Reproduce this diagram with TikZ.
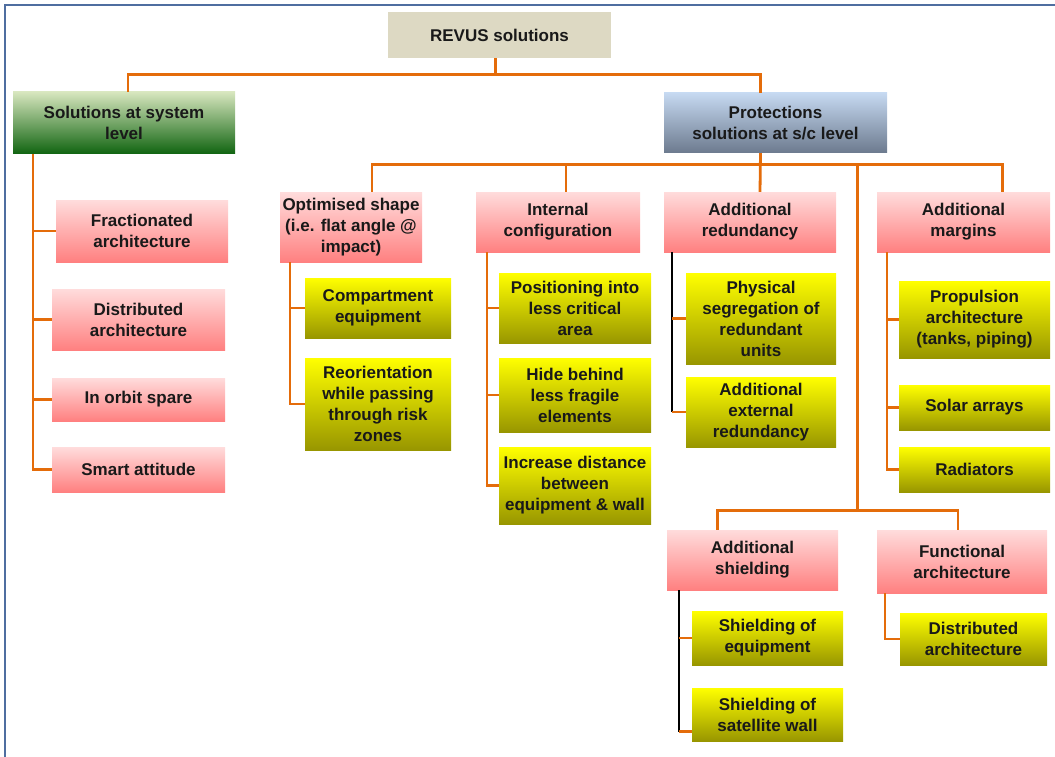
\documentclass[tikz,border=0pt]{standalone}
\usepackage{fontspec}
\setmainfont{Liberation Sans}
\definecolor{revtan}{RGB}{221, 217, 195}
\definecolor{greentop}{RGB}{215, 230, 190}
\definecolor{greenbot}{RGB}{16, 100, 16}
\definecolor{bluetop}{RGB}{198, 217, 241}
\definecolor{bluebot}{RGB}{108, 122, 142}
\definecolor{pinktop}{RGB}{255, 220, 220}
\definecolor{pinkbot}{RGB}{255, 128, 128}
\definecolor{yeltop}{RGB}{255, 255, 0}
\definecolor{yelbot}{RGB}{152, 150, 0}
\definecolor{linkor}{RGB}{228, 108, 10}
\definecolor{framebl}{RGB}{79, 110, 160}
\usepackage{tikz}
\usetikzlibrary{positioning, calc}

\begin{document}
\begin{tikzpicture}[x=1pt, y=1pt,
  box/.style={inner sep=1pt, align=center, text=black!90, font=\fontsize{17}{21}\selectfont\bfseries},
  sz/.style 2 args={minimum width=#1pt, minimum height=#2pt},
  pinkbox/.style={box, top color=pinktop, bottom color=pinkbot},
  yelbox/.style={box, top color=yeltop, bottom color=yelbot},
  link/.style={draw=linkor, line width=2.8pt},
  blkline/.style={draw=black, line width=1.8pt}]
  \useasboundingbox (0,0) rectangle (1055,-757);
  % frame, left and top edges
  \draw[framebl, line width=2.5pt] (5,-757) -- (5,-5) -- (1055,-5);

  % top level
  \node[box, fill=revtan, sz={223}{46}] (revus) at (499.5,-35) {REVUS solutions};
  \node[box, top color=greentop, bottom color=greenbot, sz={222}{62}] (sys) at (124,-123) {Solutions at system\\level};
  \node[box, top color=bluetop, bottom color=bluebot, sz={223}{60}] (prot) at (775.5,-123) {Protections\\solutions at s/c level};
  \draw[link] ([xshift=-4pt]revus.south) -- ++(0,-16) coordinate (rb) -| ([xshift=4pt]sys.north);
  \draw[link] (rb) -| ([xshift=-15pt]prot.north);

  % system level branch
  \node[pinkbox, sz={172}{62}] (frac) at (142,-231) {Fractionated\\architecture};
  \node[pinkbox, sz={173}{61}] (dist) at (138.5,-319.5) {Distributed\\architecture};
  \node[pinkbox, sz={173}{43}] (spare) at (138.5,-399.5) {In orbit spare};
  \node[pinkbox, sz={173}{45}] (smart) at (138.5,-469.5) {Smart attitude};
  \foreach \c in {frac, dist, spare, smart}
    \draw[link] ([xshift=-91pt]sys.south) |- (\c.west);

  % s/c level second row
  \node[pinkbox, sz={142}{70}] (optim) at (351,-227) {Optimised shape\\(i.e. flat angle @\\impact)};
  \node[pinkbox, sz={164}{60}] (intern) at (558,-222) {Internal\\configuration};
  \node[pinkbox, sz={172}{60}] (redun) at (750,-222) {Additional\\redundancy};
  \node[pinkbox, sz={173}{60}] (margins) at (963.5,-222) {Additional\\margins};
  \coordinate (pv) at ([xshift=-15pt]prot.south);
  \coordinate (pb) at ([yshift=-11pt]pv);
  \draw[link] (pv) -- ([xshift=10pt]redun.north);
  \draw[link] ([xshift=21pt]optim.north) |- (pb) -| ([xshift=39pt]margins.north);
  \draw[link] ([xshift=8pt]intern.north) -- ++(0,28);

  % optimised shape
  \node[yelbox, sz={146}{60}] (comp) at (378,-308) {Compartment\\equipment};
  \node[yelbox, sz={146}{92}] (reor) at (378,-404) {Reorientation\\while passing\\through risk\\zones};
  \foreach \c in {comp, reor}
    \draw[link] ([xshift=-61pt]optim.south) |- (\c.west);

  % internal configuration
  \node[yelbox, sz={152}{70}] (posit) at (575,-308) {Positioning into\\less critical\\area};
  \node[yelbox, sz={152}{74}] (hide) at (575,-395) {Hide behind\\less fragile\\elements};
  \node[yelbox, sz={152}{77}] (incr) at (575,-485.5) {Increase distance\\between\\equipment \& wall};
  \foreach \c in {posit, hide, incr}
    \draw[link] ([xshift=-71pt]intern.south) |- (\c.west);

  % additional redundancy
  \node[yelbox, sz={150}{91}] (phys) at (761,-318.5) {Physical\\segregation of\\redundant\\units};
  \node[yelbox, sz={150}{70}] (extred) at (761,-412) {Additional\\external\\redundancy};
  \coordinate (rv) at ([xshift=-78pt]redun.south);
  \draw[blkline] (rv) -- (rv |- extred.west);
  \foreach \c in {phys, extred}
    \draw[link] (rv |- \c.west) -- (\c.west);

  % additional margins
  \node[yelbox, sz={151}{77}] (prop) at (974.5,-319.5) {Propulsion\\architecture\\(tanks, piping)};
  \node[yelbox, sz={151}{45}] (solar) at (974.5,-407.5) {Solar arrays};
  \node[yelbox, sz={151}{45}] (rad) at (974.5,-469.5) {Radiators};
  \foreach \c in {prop, solar, rad}
    \draw[link] ([xshift=-76.5pt]margins.south) |- (\c.west);

  % lower row
  \node[pinkbox, sz={171}{60}] (shield) at (752.5,-560) {Additional\\shielding};
  \node[pinkbox, sz={170}{63}] (func) at (962,-561.5) {Functional\\architecture};
  \coordinate (sb) at ($(shield.north)!.5!(func.north)+(0,19)$);
  \draw[link] (pb -| sb) -- (sb);
  \draw[link] ([xshift=-35pt]shield.north) |- (sb) -| ([xshift=-4pt]func.north);

  % additional shielding
  \node[yelbox, sz={151}{54}] (sheq) at (767.5,-638) {Shielding of\\equipment};
  \node[yelbox, sz={151}{53}] (wall) at (767.5,-714.5) {Shielding of\\satellite wall};
  \coordinate (sv) at ([xshift=-73.5pt]shield.south);
  \coordinate (wl) at ([yshift=-17pt]wall.west);
  \draw[blkline] (sv) -- (sv |- wl);
  \draw[link] (sv |- sheq.west) -- (sheq.west);
  \draw[link] (sv |- wl) -- (wl);

  % functional architecture
  \node[yelbox, sz={147}{52}] (dist2) at (973.5,-639) {Distributed\\architecture};
  \draw[link] ([xshift=-77pt]func.south) |- (dist2.west);
\end{tikzpicture}
\end{document}
